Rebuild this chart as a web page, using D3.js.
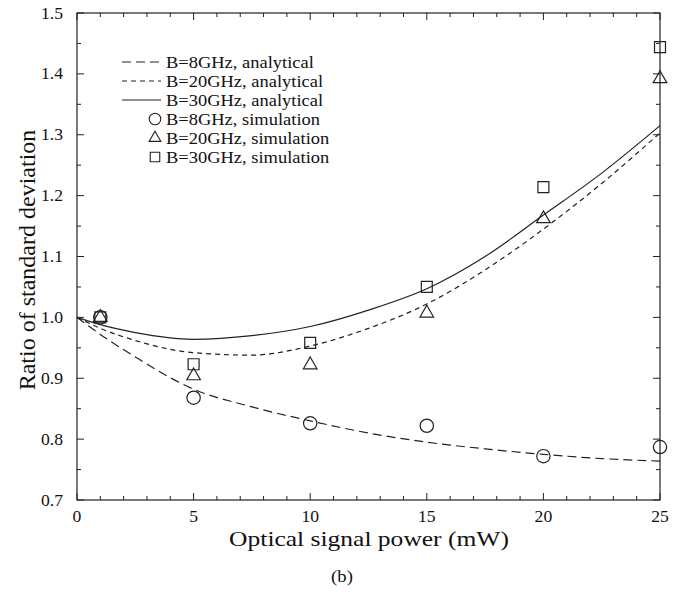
<!DOCTYPE html>
<meta charset="utf-8">
<style>
body { margin: 0; background: #fff; }
text { font-family: "Liberation Serif", "Times New Roman", serif; fill: #111; }
.tick-label { font-size: 16px; }
.legend text { font-size: 16.5px; }
</style>
<svg width="684" height="594"></svg>
<script src="https://cdn.jsdelivr.net/npm/d3@7/dist/d3.min.js"></script>
<script>

// analytical curves, sampled at these powers (mW)
var curveX  = [0, 1, 2.5, 5, 7.5, 10, 12.5, 15, 17.5, 20, 22.5, 25];
var ana8    = [1.0, 0.972, 0.935, 0.882, 0.853, 0.830, 0.810, 0.795, 0.784, 0.775, 0.768, 0.764];
var ana20   = [1.0, 0.982, 0.962, 0.942, 0.938, 0.953, 0.982, 1.022, 1.078, 1.145, 1.220, 1.303];
var ana30   = [1.0, 0.988, 0.975, 0.964, 0.970, 0.985, 1.012, 1.047, 1.100, 1.168, 1.237, 1.315];

// simulation points
var simX    = [1, 5, 10, 15, 20, 25];
var sim8    = [1.0, 0.868, 0.826, 0.822, 0.772, 0.787];
var sim20   = [1.0, 0.904, 0.922, 1.007, 1.162, 1.392];
var sim30   = [1.0, 0.923, 0.958, 1.050, 1.214, 1.444];

var xTicks = [0, 5, 10, 15, 20, 25];
var yTicks = [0.7, 0.8, 0.9, 1.0, 1.1, 1.2, 1.3, 1.4, 1.5];

var legendLabels = [
  "B=8GHz, analytical", "B=20GHz, analytical", "B=30GHz, analytical",
  "B=8GHz, simulation", "B=20GHz, simulation", "B=30GHz, simulation"
];

var svg = d3.select("svg"),
    pl = 77, pr = 660, pt = 13, pb = 500;

var x = d3.scaleLinear().domain([0, 25]).range([pl, pr]);
var y = d3.scaleLinear().domain([0.7, 1.5]).range([pb, pt]);

// frame
svg.append("rect")
    .attr("x", pl).attr("y", pt)
    .attr("width", pr - pl).attr("height", pb - pt)
    .attr("fill", "none").attr("stroke", "#222").attr("stroke-width", 1.2);

// inward ticks on all four sides
var tk = svg.append("g").attr("stroke", "#222").attr("stroke-width", 1);
d3.range(0, 26, 1).forEach(function(v) {
  var len = v % 5 === 0 ? 7 : 4;
  tk.append("line").attr("x1", x(v)).attr("x2", x(v)).attr("y1", pb).attr("y2", pb - len);
  tk.append("line").attr("x1", x(v)).attr("x2", x(v)).attr("y1", pt).attr("y2", pt + len);
});
d3.range(0, 17, 1).forEach(function(i) {
  var v = 0.7 + i * 0.05, len = i % 2 === 0 ? 7 : 4;
  tk.append("line").attr("y1", y(v)).attr("y2", y(v)).attr("x1", pl).attr("x2", pl + len);
  tk.append("line").attr("y1", y(v)).attr("y2", y(v)).attr("x1", pr).attr("x2", pr - len);
});

svg.selectAll(".xl").data(xTicks).enter().append("text")
    .attr("class", "tick-label")
    .attr("text-anchor", "middle")
    .attr("transform", function(d) { return "translate(" + x(d) + ",522) scale(1.1,1)"; })
    .text(function(d) { return d; });

svg.selectAll(".yl").data(yTicks).enter().append("text")
    .attr("class", "tick-label")
    .attr("text-anchor", "end")
    .attr("transform", function(d) { return "translate(63," + (y(d) + 5.5) + ") scale(1.1,1)"; })
    .text(function(d) { return d.toFixed(1); });

svg.append("text")
    .attr("transform", "translate(369,546) scale(1.16,1)")
    .attr("text-anchor", "middle")
    .style("font-size", "22px")
    .text("Optical signal power (mW)");

svg.append("text")
    .attr("transform", "translate(35,260) rotate(-90)")
    .attr("text-anchor", "middle")
    .style("font-size", "24px")
    .text("Ratio of standard deviation");

svg.append("text")
    .attr("transform", "translate(342,582) scale(1.1,1)")
    .attr("text-anchor", "middle")
    .style("font-size", "17px")
    .text("(b)");

// analytical curves
var line = d3.line()
    .x(function(d) { return x(d[0]); })
    .y(function(d) { return y(d[1]); })
    .curve(d3.curveMonotoneX);

var dashes = ["9,5", "5,4", null];
[ana8, ana20, ana30].forEach(function(s, i) {
  svg.append("path")
      .datum(curveX.map(function(v, j) { return [v, s[j]]; }))
      .attr("d", line)
      .attr("fill", "none")
      .attr("stroke", "#222")
      .attr("stroke-width", 1.2)
      .attr("stroke-dasharray", dashes[i]);
});

// markers
var symbols = [d3.symbolCircle, d3.symbolTriangle, d3.symbolSquare];
var sizes = [140, 80, 120];
[sim8, sim20, sim30].forEach(function(s, i) {
  svg.selectAll(".m" + i).data(simX).enter().append("path")
      .attr("d", d3.symbol().type(symbols[i]).size(sizes[i]))
      .attr("transform", function(d, j) { return "translate(" + x(d) + "," + y(s[j]) + ")"; })
      .attr("fill", "none")
      .attr("stroke", "#222")
      .attr("stroke-width", 1.2);
});

// legend
var lg = svg.append("g").attr("class", "legend");
legendLabels.forEach(function(lab, i) {
  var ly = 62 + i * 19;
  if (i < 3) {
    lg.append("line")
        .attr("x1", 122).attr("x2", 161).attr("y1", ly).attr("y2", ly)
        .attr("stroke", "#222").attr("stroke-width", 1.1)
        .attr("stroke-dasharray", dashes[i]);
  } else {
    lg.append("path")
        .attr("d", d3.symbol().type(symbols[i - 3]).size(sizes[i - 3] * 0.75))
        .attr("transform", "translate(155," + ly + ")")
        .attr("fill", "none").attr("stroke", "#222").attr("stroke-width", 1.1);
  }
  lg.append("text")
      .attr("transform", "translate(166," + (ly + 5.5) + ") scale(1.12,1)")
      .text(lab);
});

</script>
